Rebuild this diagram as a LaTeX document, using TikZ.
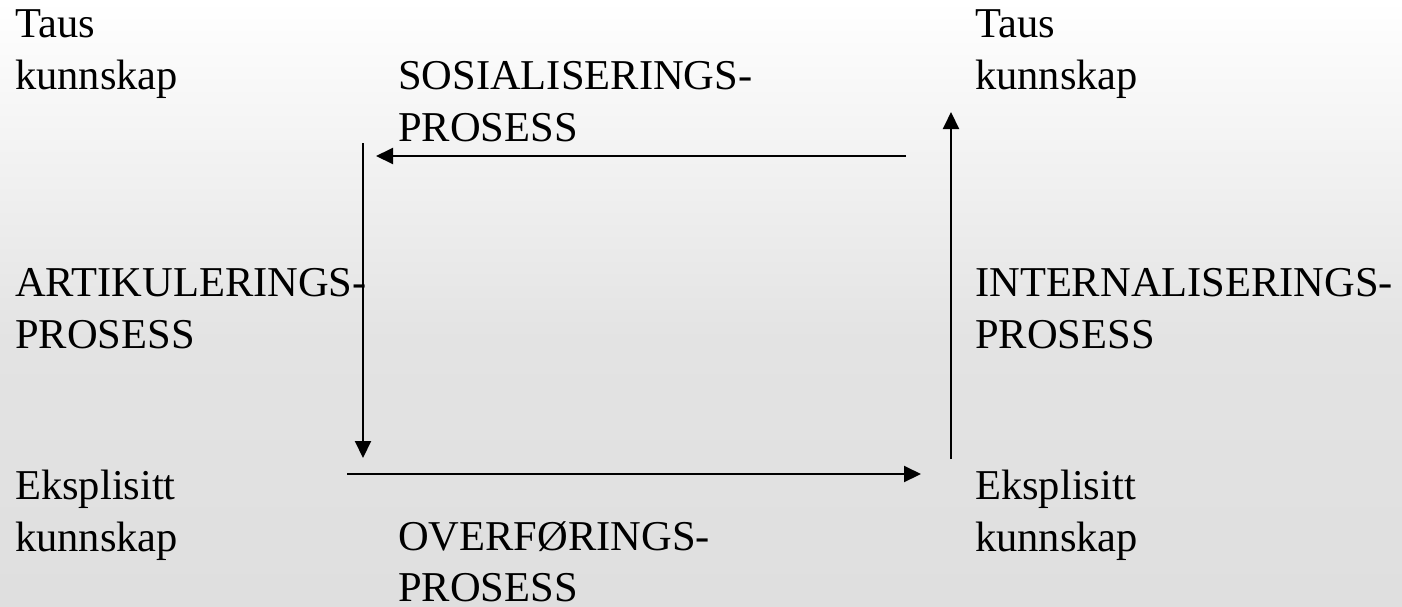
\documentclass[tikz,border=0pt]{standalone}
\usepackage{fontspec}
\setmainfont{Liberation Serif}
\usetikzlibrary{arrows.meta}
\definecolor{bgtop}{HTML}{FFFFFF}
\definecolor{bgmid}{HTML}{E3E3E3}
\definecolor{bgbot}{HTML}{DFDFDF}
\begin{document}
\begin{tikzpicture}[x=1pt,y=1pt,
  lbl/.style={inner sep=0pt,anchor=base west,font=\fontsize{42.5}{52}\selectfont},
  conn/.style={line width=2pt,-{Triangle[length=17pt,width=16pt]}}]
\useasboundingbox (0,0) rectangle (1402,-606);
\shade[top color=bgtop,bottom color=bgmid] (0,0) rectangle (1402,-340);
\shade[top color=bgmid,bottom color=bgbot] (0,-340) rectangle (1402,-606.5);
% texts
\node[lbl] (tl1) at (15,-37) {Taus};
\node[lbl] (tl2) at (15,-89) {kunnskap};
\node[lbl] (tr1) at (975,-37) {Taus};
\node[lbl] (tr2) at (975,-89) {kunnskap};
\node[lbl] (so1) at (398,-89) {SOSIALISERINGS-};
\node[lbl] (so2) at (398,-141) {PROSESS};
\node[lbl] (ar1) at (15,-296) {ARTIKULERINGS-};
\node[lbl] (ar2) at (15,-348) {PROSESS};
\node[lbl] (in1) at (975,-296) {INTERNALISERINGS-};
\node[lbl] (in2) at (975,-348) {PROSESS};
\node[lbl] (bl1) at (15,-499) {Eksplisitt};
\node[lbl] (bl2) at (15,-551) {kunnskap};
\node[lbl] (br1) at (975,-499) {Eksplisitt};
\node[lbl] (br2) at (975,-551) {kunnskap};
\node[lbl] (ov1) at (398,-550) {OVERFØRINGS-};
\node[lbl] (ov2) at (398,-601) {PROSESS};
% arrow end points
\coordinate (s1) at (906,-156);
\coordinate (s2) at (376,-156);
\coordinate (a1) at (363,-143);
\coordinate (a2) at (363,-458);
\coordinate (o1) at (347,-474);
\coordinate (o2) at (921,-474);
\coordinate (i1) at (951,-459);
\coordinate (i2) at (951,-112);
\draw[conn] (s1) -- (s2);
\draw[conn] (a1) -- (a2);
\draw[conn] (o1) -- (o2);
\draw[conn] (i1) -- (i2);
\end{tikzpicture}
\end{document}
